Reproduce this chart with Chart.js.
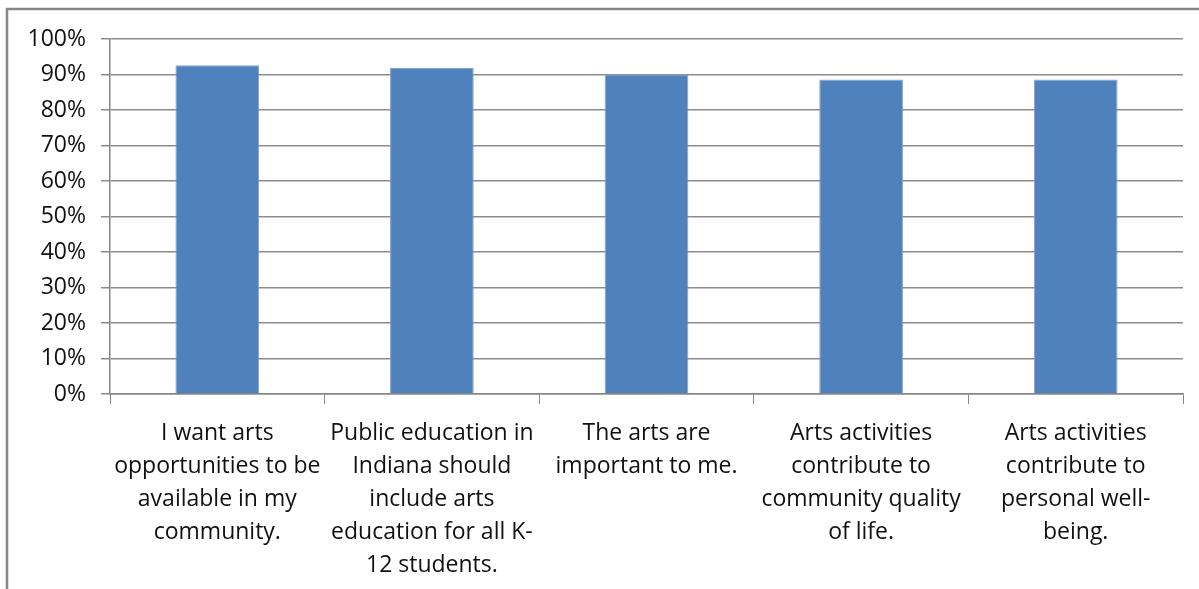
<!DOCTYPE html>
<html>
<head>
<meta charset="utf-8">
<script src="https://cdn.jsdelivr.net/npm/chart.js@4/dist/chart.umd.min.js"></script>
<style>
  html, body { margin:0; padding:0; background:#fff; }
  #wrap { width:1199px; height:589px; position:relative; }
</style>
</head>
<body>
<div id="wrap"><canvas id="c" width="1199" height="589"></canvas></div>
<script>
// data
const categories = [
    ['I want arts', 'opportunities to be', 'available in my', 'community.'],
    ['Public education in', 'Indiana should', 'include arts', 'education for all K-', '12 students.'],
    ['The arts are', 'important to me.'],
    ['Arts activities', 'contribute to', 'community quality', 'of life.'],
    ['Arts activities', 'contribute to', 'personal well-', 'being.']
];
const agreeShare = [0.926, 0.918, 0.90, 0.886, 0.886];
const yTicks = [0, 0.1, 0.2, 0.3, 0.4, 0.5, 0.6, 0.7, 0.8, 0.9, 1];

const FONT = '"Open Sans", Lato, sans-serif';

// grey frame round the whole chart, cut off at right and bottom like the original
const frame = {
    id: 'frame',
    beforeDraw(chart){
        const c = chart.ctx;
        c.save();
        c.fillStyle = '#fff';
        c.fillRect(0, 0, chart.width, chart.height);
        c.strokeStyle = '#868686';
        c.lineWidth = 2.5;
        c.strokeRect(7, 9, chart.width + 20, chart.height + 20);
        c.restore();
    }
};

new Chart(document.getElementById('c'), {
    type: 'bar',
    data: {
        labels: categories,
        datasets: [{
            data: agreeShare,
            backgroundColor: '#4F81BD',
            borderColor: '#7FA3D1',
            borderWidth: 1,
            barPercentage: 0.39,
            categoryPercentage: 1
        }]
    },
    options: {
        responsive: false,
        animation: false,
        layout: { padding: { top: 39, right: 16, left: 0, bottom: 0 } },
        plugins: { legend: { display:false }, tooltip: { enabled:false } },
        scales: {
            x: {
                offset: true,
                grid: { offset: true, drawOnChartArea: false, drawTicks: true, tickLength: 10, color: '#868686' },
                border: { color: '#868686', width: 1.5 },
                ticks: { color: '#111', padding: 13, maxRotation: 0, autoSkip: false,
                         font: { family: FONT, size: 23, lineHeight: 1.43 } },
                afterFit(s){ s.height = 589 - 394; }
            },
            y: {
                min: 0, max: 1,
                afterBuildTicks(s){ s.ticks = yTicks.map(v => ({ value: v })); },
                grid: { color: '#8c8c8c', lineWidth: 1.5, tickLength: 9 },
                border: { color: '#868686', width: 1.5 },
                ticks: { color: '#111', padding: 15,
                         font: { family: FONT, size: 23 },
                         callback: v => Math.round(v * 100) + '%' },
                afterFit(s){ s.width = 110; }
            }
        }
    },
    plugins: [frame]
});
</script>
</body>
</html>
